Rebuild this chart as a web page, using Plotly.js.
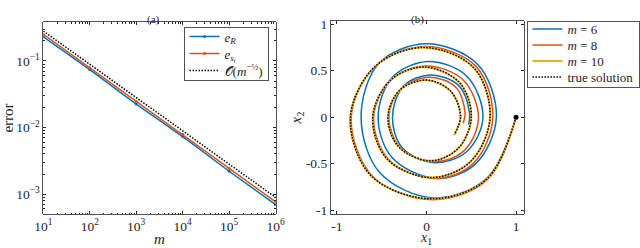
<!DOCTYPE html>
<html>
<head>
<meta charset="utf-8">
<script src="https://cdn.plot.ly/plotly-3.0.1.min.js"></script>
<style>html,body{margin:0;padding:0;background:#fff;}#plot{width:640px;height:248px;}</style>
</head>
<body>
<div id="plot"></div>
<script>
// ---- Panel (a): error vs m ----
const mVals = [10, 100, 1000, 10000, 100000, 1000000];
const errR  = [0.231, 0.074, 0.0225, 0.0073, 0.0022, 0.00069];
const errSt = [0.251, 0.079, 0.0245, 0.0079, 0.00245, 0.00076];
const refO  = [0.282, 0.089, 0.0282, 0.0089, 0.00282, 0.00089];
const xTickVals = [10, 100, 1000, 10000, 100000, 1000000];
const xTickText = ['10<sup>1</sup>','10<sup>2</sup>','10<sup>3</sup>','10<sup>4</sup>','10<sup>5</sup>','10<sup>6</sup>'];
const yTickVals = [0.1, 0.01, 0.001];
const yTickText = ['10<sup>−1</sup>','10<sup>−2</sup>','10<sup>−3</sup>'];

// ---- Panel (b): spiral trajectories (clockwise, read every 45 degrees) ----
const m6x = [1.00, 0.67, 0.08, -0.52, -0.73, -0.53, 0.00, 0.57, 0.78, 0.55, 0.12, -0.38, -0.54, -0.38, 0.02, 0.45, 0.63, 0.45, 0.08, -0.27, -0.38, -0.26, 0.04, 0.36, 0.48, 0.47];
const m6y = [0.00, -0.66, -0.87, -0.60, 0.00, 0.58, 0.79, 0.57, 0.00, -0.50, -0.66, -0.44, 0.00, 0.43, 0.60, 0.44, 0.00, -0.37, -0.49, -0.33, 0.00, 0.33, 0.455, 0.34, 0.05, -0.08];
const m8x = [1.00, 0.68, 0.07, -0.60, -0.84, -0.57, -0.02, 0.55, 0.74, 0.52, 0.09, -0.42, -0.59, -0.40, 0.00, 0.41, 0.58, 0.42, 0.08, -0.29, -0.42, -0.29, 0.03, 0.33, 0.43, 0.41];
const m8y = [0.00, -0.67, -0.89, -0.64, 0.00, 0.55, 0.76, 0.55, -0.01, -0.50, -0.66, -0.46, 0.00, 0.40, 0.55, 0.40, -0.01, -0.36, -0.48, -0.33, 0.00, 0.30, 0.43, 0.32, 0.05, -0.065];
const m10x = [1.00, 0.67, 0.05, -0.62, -0.85, -0.57, -0.03, 0.53, 0.71, 0.49, 0.05, -0.44, -0.60, -0.40, -0.02, 0.37, 0.50, 0.35, 0.04, -0.31, -0.43, -0.30, 0.00, 0.27, 0.38, 0.31];
const m10y = [0.00, -0.67, -0.88, -0.63, 0.00, 0.55, 0.75, 0.53, 0.00, -0.48, -0.65, -0.45, 0.00, 0.40, 0.54, 0.37, 0.00, -0.34, -0.47, -0.32, 0.00, 0.29, 0.40, 0.28, 0.01, -0.19];
const trueX = [1.00, 0.67, 0.05, -0.62, -0.85, -0.57, -0.03, 0.53, 0.71, 0.49, 0.05, -0.44, -0.60, -0.40, -0.02, 0.37, 0.50, 0.35, 0.04, -0.31, -0.43, -0.30, 0.00, 0.27, 0.38, 0.31];
const trueY = [0.00, -0.67, -0.88, -0.63, 0.00, 0.55, 0.75, 0.53, 0.00, -0.48, -0.65, -0.45, 0.00, 0.40, 0.54, 0.37, 0.00, -0.34, -0.47, -0.32, 0.00, 0.29, 0.40, 0.28, 0.01, -0.19];
const startX = [1.0];
const startY = [0.0];
const spiralTicks = [-1, 0, 1];
const spiralXText = ['-1', '0', '1'];
const spiralYTicks = [-1, -0.5, 0, 0.5, 1];
const spiralYText = ['-1', '-0.5', '0', '0.5', '1'];

const BLUE = '#0072BD', ORANGE = '#D95319', YELLOW = '#EDB120';
const FONT = 'Liberation Serif';
const AX = '#262626';
const DOT = '1.5px,1.5px';

const traces = [
  {x: mVals, y: errR, type: 'scatter', mode: 'lines+markers', name: '<i>e</i><sub><i>R</i></sub>',
   line: {color: BLUE, width: 1.5}, marker: {size: 3, color: BLUE}, xaxis: 'x', yaxis: 'y', legend: 'legend'},
  {x: mVals, y: errSt, type: 'scatter', mode: 'lines+markers', name: '<i>e</i><sub><i>s<sub>t</sub></i></sub>',
   line: {color: ORANGE, width: 1.5}, marker: {size: 3, color: ORANGE}, xaxis: 'x', yaxis: 'y', legend: 'legend'},
  {x: mVals, y: refO, type: 'scatter', mode: 'lines', name: '𝒪(<i>m</i><sup>−½</sup>)',
   line: {color: '#000', width: 1.5, dash: DOT}, xaxis: 'x', yaxis: 'y', legend: 'legend'},

  {x: m6x, y: m6y, type: 'scatter', mode: 'lines', name: '<i>m</i> = 6',
   line: {color: BLUE, width: 1.5, shape: 'spline', smoothing: 1.0}, xaxis: 'x2', yaxis: 'y2', legend: 'legend2'},
  {x: m8x, y: m8y, type: 'scatter', mode: 'lines', name: '<i>m</i> = 8',
   line: {color: ORANGE, width: 1.5, shape: 'spline', smoothing: 1.0}, xaxis: 'x2', yaxis: 'y2', legend: 'legend2'},
  {x: m10x, y: m10y, type: 'scatter', mode: 'lines', name: '<i>m</i> = 10',
   line: {color: YELLOW, width: 2, shape: 'spline', smoothing: 1.0}, xaxis: 'x2', yaxis: 'y2', legend: 'legend2'},
  {x: trueX, y: trueY, type: 'scatter', mode: 'lines', name: 'true solution',
   line: {color: '#000', width: 1.5, dash: DOT, shape: 'spline', smoothing: 1.0}, xaxis: 'x2', yaxis: 'y2', legend: 'legend2'},
  {x: startX, y: startY, type: 'scatter', mode: 'markers', showlegend: false,
   marker: {size: 5, color: '#000'}, xaxis: 'x2', yaxis: 'y2'}
];

function axBase() {
  return {
    showline: true, linecolor: AX, linewidth: 0.8, mirror: 'ticks', ticks: 'inside', ticklen: 3,
    tickcolor: AX, showgrid: false, zeroline: false,
    tickfont: {family: FONT, size: 13.5, color: AX}
  };
}

const layout = {
  width: 640, height: 248,
  margin: {l: 0, r: 0, t: 0, b: 0},
  paper_bgcolor: '#fff', plot_bgcolor: '#fff',
  font: {family: FONT, color: AX},
  showlegend: true,
  xaxis: Object.assign(axBase(), {
    domain: [44/640, 280/640], type: 'log', range: [1, 6],
    tickvals: xTickVals, ticktext: xTickText,
    minor: {dtick: 'D1', ticks: 'inside', ticklen: 1.5, tickcolor: AX, showgrid: false},
    title: {text: '<i>m</i>', font: {family: FONT, size: 15, color: AX}, standoff: 0},
    anchor: 'y'
  }),
  yaxis: Object.assign(axBase(), {
    domain: [34/248, 226/248], type: 'log', range: [-3.30, -0.414],
    tickvals: yTickVals, ticktext: yTickText,
    minor: {dtick: 'D1', ticks: 'inside', ticklen: 1.5, tickcolor: AX, showgrid: false},
    title: {text: 'error', font: {family: FONT, size: 15, color: AX}, standoff: 0},
    anchor: 'x'
  }),
  xaxis2: Object.assign(axBase(), {
    domain: [336/640, 532/640], range: [-1.069, 1.085],
    tickvals: spiralTicks, ticktext: spiralXText,
    anchor: 'y2'
  }),
  yaxis2: Object.assign(axBase(), {
    domain: [34/248, 227/248], range: [-1.043, 1.036],
    tickvals: spiralYTicks, ticktext: spiralYText,
    title: {text: '<i>x</i><sub>2</sub>', font: {family: FONT, size: 15, color: AX}, standoff: 0},
    anchor: 'x2'
  }),
  legend: {
    x: 273/640, y: 1 - 27/248, xanchor: 'right', yanchor: 'top',
    bgcolor: '#fff', bordercolor: AX, borderwidth: 0.8,
    font: {family: FONT, size: 13, color: AX},
    tracegroupgap: 0, itemwidth: 30
  },
  legend2: {
    x: 535/640, y: 1 - 21/248, xanchor: 'left', yanchor: 'top',
    bgcolor: '#fff', bordercolor: AX, borderwidth: 0.8,
    font: {family: FONT, size: 13, color: AX},
    tracegroupgap: 0, itemwidth: 30
  },
  annotations: [
    {text: '(a)', x: 147/640, y: 1 - 11/248, xref: 'paper', yref: 'paper', showarrow: false,
     font: {family: FONT, size: 11, color: AX}},
    {text: '(b)', x: 433/640, y: 1 - 11/248, xref: 'paper', yref: 'paper', showarrow: false,
     font: {family: FONT, size: 11, color: AX}},
    {text: '<i>x</i><sub>1</sub>', x: 433/640, y: 0, xref: 'paper', yref: 'paper', showarrow: false,
     xanchor: 'center', yanchor: 'bottom', borderpad: 0,
     font: {family: FONT, size: 14, color: AX}}
  ]
};

// compact legend rows to match the reference spacing
function compactLegend(gd, id, spacing, firstOffset, bottomPad) {
  const g = gd.querySelector('g.' + id);
  if (!g) return;
  const items = g.querySelectorAll('g.traces');
  if (!items.length) return;
  items.forEach((it, i) => {
    const tr = it.getAttribute('transform') || '';
    const mt = /translate\(\s*([-\d.]+)[ ,]+([-\d.]+)\s*\)/.exec(tr);
    const x = mt ? parseFloat(mt[1]) : 0;
    it.setAttribute('transform', 'translate(' + x + ',' + (firstOffset + i * spacing) + ')');
  });
  const h = firstOffset + (items.length - 1) * spacing + bottomPad;
  g.querySelectorAll('rect.bg').forEach(r => r.setAttribute('height', h));
  g.querySelectorAll('clipPath rect, rect.scrollbox-bg').forEach(r => r.setAttribute('height', h));
}

Plotly.newPlot('plot', traces, layout, {displayModeBar: false, staticPlot: true}).then(gd => {
  try {
    compactLegend(gd, 'legend', 17, 9.5, 9.5);
    compactLegend(gd, 'legend2', 16, 8, 10);
  } catch (e) {}
});
</script>
</body>
</html>
